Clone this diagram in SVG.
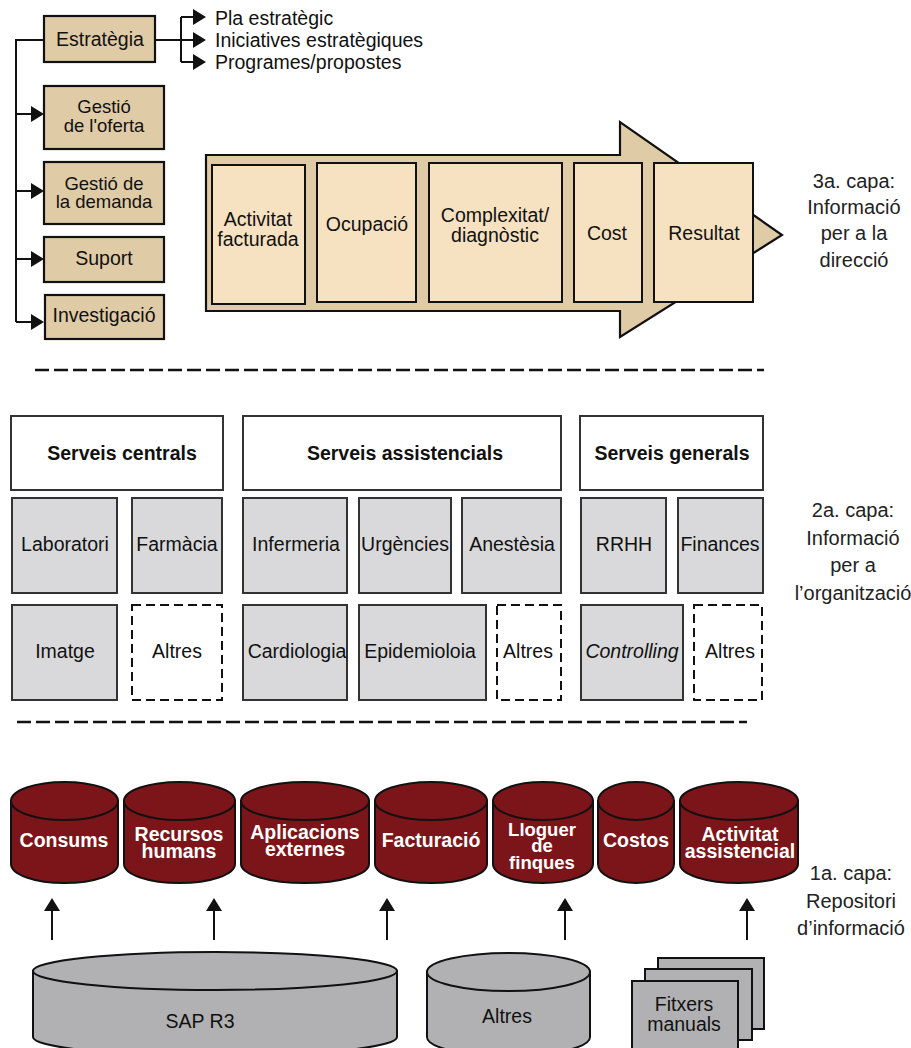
<svg xmlns="http://www.w3.org/2000/svg" width="911" height="1048" viewBox="0 0 911 1048">
  <defs>
    <style>
      text { font-family: "Liberation Sans", Arial, sans-serif; font-size: 19.5px; fill: #111; }
      .c { text-anchor: middle; }
      .b { font-weight: bold; }
      .w { fill: #fff; font-weight: bold; text-anchor: middle; }
      .tight { font-size: 18.5px; }
      .lbl { font-size: 20px; text-anchor: middle; fill: #222; }
      .tan { fill: #e0cba7; stroke: #111; stroke-width: 2.2; }
      .light { fill: #f6e1c0; stroke: #111; stroke-width: 2; }
      .head { fill: #fff; stroke: #333; stroke-width: 2; }
      .grey { fill: #d9d9db; stroke: #333; stroke-width: 2; }
      .dash { fill: #fff; stroke: #111; stroke-width: 2; stroke-dasharray: 9 5; }
      .db { fill: #7c1519; stroke: #111; stroke-width: 2; }
      .src { fill: #b1b1b3; stroke: #111; stroke-width: 2; }
      .wire { fill: none; stroke: #111; stroke-width: 2; }
      .sep { fill: none; stroke: #111; stroke-width: 2.5; stroke-dasharray: 14 5; }
    </style>
    <marker id="arrow" viewBox="0 0 13 16" refX="0" refY="8" markerWidth="13" markerHeight="16" markerUnits="userSpaceOnUse" orient="auto">
      <path d="M0,0 L13,8 L0,16 Z" fill="#111"/>
    </marker>
  </defs>

  <!-- connectors -->
  <g id="connectors">
    <path class="wire" d="M44,40 H16 V322"/>
    <path class="wire" d="M16,114 H31" marker-end="url(#arrow)"/>
    <path class="wire" d="M16,191 H31" marker-end="url(#arrow)"/>
    <path class="wire" d="M16,259 H31" marker-end="url(#arrow)"/>
    <path class="wire" d="M16,322 H31" marker-end="url(#arrow)"/>
    <path class="wire" d="M155,40 H181 M181,17 V62"/>
    <path class="wire" d="M181,17 H193" marker-end="url(#arrow)"/>
    <path class="wire" d="M181,40 H193" marker-end="url(#arrow)"/>
    <path class="wire" d="M181,62 H193" marker-end="url(#arrow)"/>
    <path class="wire" d="M52,940 V911" marker-end="url(#arrow)"/>
    <path class="wire" d="M214,940 V911" marker-end="url(#arrow)"/>
    <path class="wire" d="M387,940 V911" marker-end="url(#arrow)"/>
    <path class="wire" d="M565,940 V911" marker-end="url(#arrow)"/>
    <path class="wire" d="M747,940 V911" marker-end="url(#arrow)"/>
    <path class="sep" d="M35,370 H764"/>
    <path class="sep" d="M17,722 H747"/>
  </g>

  <!-- strategy branch -->
  <g id="estrategia">
    <rect class="tan" x="44" y="16" width="111" height="46"/>
    <text class="c" x="100" y="46">Estratègia</text>
  </g>
  <g id="outputs">
    <text x="215" y="25">Pla estratègic</text>
    <text x="215" y="47">Iniciatives estratègiques</text>
    <text x="215" y="69">Programes/propostes</text>
  </g>
  <g id="gestio-oferta">
    <rect class="tan" x="44" y="86" width="120" height="63"/>
    <text class="c tight" x="104" y="113">Gestió</text>
    <text class="c tight" x="104" y="132">de l'oferta</text>
  </g>
  <g id="gestio-demanda">
    <rect class="tan" x="44" y="162" width="120" height="62"/>
    <text class="c tight" x="104" y="190">Gestió de</text>
    <text class="c tight" x="104" y="208">la demanda</text>
  </g>
  <g id="suport">
    <rect class="tan" x="44" y="237" width="120" height="45"/>
    <text class="c" x="104" y="265">Suport</text>
  </g>
  <g id="investigacio">
    <rect class="tan" x="45" y="295" width="119" height="44"/>
    <text class="c" x="104" y="322">Investigació</text>
  </g>

  <!-- management information arrow -->
  <g id="fletxa-direccio">
    <polygon class="tan" points="206,155 620,155 620,122 782,235 620,337 620,311 206,311"/>
  </g>
  <g id="activitat-facturada">
    <rect class="light" x="212" y="165" width="93" height="139"/>
    <text class="c" x="258" y="226">Activitat</text>
    <text class="c" x="258" y="246">facturada</text>
  </g>
  <g id="ocupacio">
    <rect class="light" x="317" y="163" width="99" height="139"/>
    <text class="c" x="367" y="231">Ocupació</text>
  </g>
  <g id="complexitat">
    <rect class="light" x="429" y="163" width="133" height="139"/>
    <text class="c" x="495" y="222">Complexitat/</text>
    <text class="c" x="495" y="242">diagnòstic</text>
  </g>
  <g id="cost">
    <rect class="light" x="574" y="163" width="68" height="139"/>
    <text class="c" x="607" y="240">Cost</text>
  </g>
  <g id="resultat">
    <rect class="light" x="654" y="163" width="99" height="139"/>
    <text class="c" x="704" y="240">Resultat</text>
  </g>
  <g id="capa3">
    <text class="lbl" x="854" y="188">3a. capa:</text>
    <text class="lbl" x="854" y="214">Informació</text>
    <text class="lbl" x="854" y="240">per a la</text>
    <text class="lbl" x="854" y="267">direcció</text>
  </g>

  <!-- organisation layer -->
  <g id="serveis-centrals">
    <rect class="head" x="11" y="416" width="212" height="74"/>
    <text class="c b" x="122" y="460">Serveis centrals</text>
  </g>
  <g id="serveis-assistencials">
    <rect class="head" x="243" y="416" width="318" height="74"/>
    <text class="c b" x="405" y="460">Serveis assistencials</text>
  </g>
  <g id="serveis-generals">
    <rect class="head" x="580" y="416" width="183" height="74"/>
    <text class="c b" x="672" y="460">Serveis generals</text>
  </g>

  <g id="laboratori">
    <rect class="grey" x="12" y="498" width="105" height="95"/>
    <text class="c" x="65" y="551">Laboratori</text>
  </g>
  <g id="farmacia">
    <rect class="grey" x="132" y="498" width="90" height="95"/>
    <text class="c" x="177" y="551">Farmàcia</text>
  </g>
  <g id="infermeria">
    <rect class="grey" x="243" y="498" width="104" height="95"/>
    <text class="c" x="296" y="551">Infermeria</text>
  </g>
  <g id="urgencies">
    <rect class="grey" x="359" y="498" width="92" height="95"/>
    <text class="c" x="405" y="551">Urgències</text>
  </g>
  <g id="anestesia">
    <rect class="grey" x="462" y="498" width="99" height="95"/>
    <text class="c" x="512" y="551">Anestèsia</text>
  </g>
  <g id="rrhh">
    <rect class="grey" x="581" y="498" width="85" height="95"/>
    <text class="c" x="624" y="551">RRHH</text>
  </g>
  <g id="finances">
    <rect class="grey" x="678" y="498" width="85" height="95"/>
    <text class="c" x="720" y="551">Finances</text>
  </g>

  <g id="imatge">
    <rect class="grey" x="12" y="605" width="105" height="95"/>
    <text class="c" x="65" y="658">Imatge</text>
  </g>
  <g id="altres-centrals">
    <rect class="dash" x="132" y="605" width="90" height="95"/>
    <text class="c" x="177" y="658">Altres</text>
  </g>
  <g id="cardiologia">
    <rect class="grey" x="243" y="605" width="104" height="95"/>
    <text class="c" x="297" y="658">Cardiologia</text>
  </g>
  <g id="epidemiologia">
    <rect class="grey" x="359" y="605" width="127" height="95"/>
    <text class="c" x="420" y="658">Epidemioloia</text>
  </g>
  <g id="altres-assistencials">
    <rect class="dash" x="497" y="605" width="64" height="95"/>
    <text class="c" x="528" y="658">Altres</text>
  </g>
  <g id="controlling">
    <rect class="grey" x="581" y="605" width="102" height="95"/>
    <text class="c" x="632" y="658" font-style="italic">Controlling</text>
  </g>
  <g id="altres-generals">
    <rect class="dash" x="694" y="605" width="68" height="95"/>
    <text class="c" x="730" y="658">Altres</text>
  </g>
  <g id="capa2">
    <text class="lbl" x="853" y="517">2a. capa:</text>
    <text class="lbl" x="853" y="545">Informació</text>
    <text class="lbl" x="853" y="572">per a</text>
    <text class="lbl" x="853" y="600">l’organització</text>
  </g>

  <!-- repository layer -->
  <g id="consums">
    <path class="db" d="M11,801 V864 A53.5,19 0 0 0 118,864 V801 Z"/>
    <ellipse class="db" cx="64.5" cy="801" rx="53.5" ry="19"/>
    <text class="w" x="64" y="847">Consums</text>
  </g>
  <g id="recursos-humans">
    <path class="db" d="M124,801 V864 A55.5,19 0 0 0 235,864 V801 Z"/>
    <ellipse class="db" cx="179.5" cy="801" rx="55.5" ry="19"/>
    <text class="w" x="179" y="841">Recursos</text>
    <text class="w" x="179" y="858">humans</text>
  </g>
  <g id="aplicacions-externes">
    <path class="db" d="M241,801 V864 A64,19 0 0 0 369,864 V801 Z"/>
    <ellipse class="db" cx="305" cy="801" rx="64" ry="19"/>
    <text class="w" x="305" y="839">Aplicacions</text>
    <text class="w" x="305" y="856">externes</text>
  </g>
  <g id="facturacio">
    <path class="db" d="M375,801 V864 A56,19 0 0 0 487,864 V801 Z"/>
    <ellipse class="db" cx="431" cy="801" rx="56" ry="19"/>
    <text class="w" x="431" y="847">Facturació</text>
  </g>
  <g id="lloguer-finques">
    <path class="db" d="M493,801 V864 A50,19 0 0 0 593,864 V801 Z"/>
    <ellipse class="db" cx="543" cy="801" rx="50" ry="19"/>
    <text class="w tight" x="542" y="836">Lloguer</text>
    <text class="w tight" x="542" y="852">de</text>
    <text class="w tight" x="542" y="869">finques</text>
  </g>
  <g id="costos">
    <path class="db" d="M598,801 V864 A38,19 0 0 0 674,864 V801 Z"/>
    <ellipse class="db" cx="636" cy="801" rx="38" ry="19"/>
    <text class="w" x="636" y="847">Costos</text>
  </g>
  <g id="activitat-assistencial">
    <path class="db" d="M680,801 V864 A59,19 0 0 0 798,864 V801 Z"/>
    <ellipse class="db" cx="739" cy="801" rx="59" ry="19"/>
    <text class="w" x="740" y="841">Activitat</text>
    <text class="w" x="740" y="858">assistencial</text>
  </g>
  <g id="capa1">
    <text class="lbl" x="851" y="880">1a. capa:</text>
    <text class="lbl" x="851" y="908">Repositori</text>
    <text class="lbl" x="851" y="935">d’informació</text>
  </g>

  <!-- source systems -->
  <g id="sap-r3">
    <path class="src" d="M33,971 V1037 A182,19 0 0 0 397,1037 V971 Z"/>
    <ellipse class="src" cx="215" cy="971" rx="182" ry="19"/>
    <text class="c" x="200" y="1028">SAP R3</text>
  </g>
  <g id="altres-fonts">
    <path class="src" d="M427,972 V1037 A81.5,19 0 0 0 590,1037 V972 Z"/>
    <ellipse class="src" cx="508.5" cy="972" rx="81.5" ry="19"/>
    <text class="c" x="507" y="1023">Altres</text>
  </g>
  <g id="fitxers-manuals">
    <rect class="src" x="658" y="958" width="106" height="71"/>
    <rect class="src" x="645" y="969" width="107" height="71"/>
    <rect class="src" x="632" y="981" width="106" height="75" stroke-width="3"/>
    <text class="c" x="684" y="1011">Fitxers</text>
    <text class="c" x="684" y="1031">manuals</text>
  </g>
</svg>
